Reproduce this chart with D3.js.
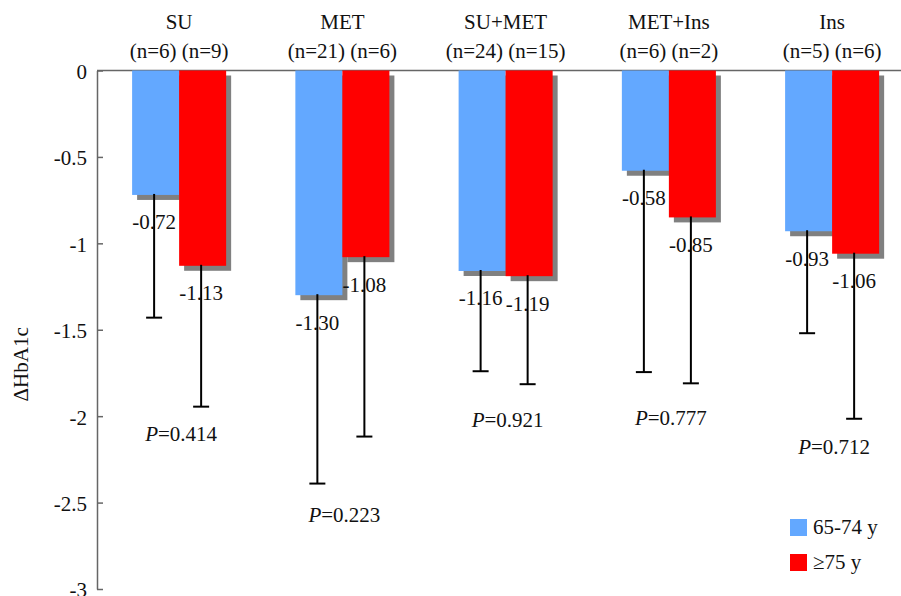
<!DOCTYPE html>
<html>
<head>
<meta charset="utf-8">
<script src="https://cdn.jsdelivr.net/npm/d3@7"></script>
<style>
  html, body { margin: 0; padding: 0; background: #fff; }
  svg { display: block; }
  svg text { font-family: "Liberation Serif", "Times New Roman", serif !important; }
</style>
</head>
<body>
<svg id="chart" width="901" height="596"></svg>
<script>
// ---- data ----
const categories = ["SU", "MET", "SU+MET", "MET+Ins", "Ins"];
const seriesNames = ["65-74 y", "\u226575 y"];
const nYoung = [6, 21, 24, 6, 5];
const nOld = [9, 6, 15, 2, 6];
const meanYoung = [-0.72, -1.30, -1.16, -0.58, -0.93];
const meanOld = [-1.13, -1.08, -1.19, -0.85, -1.06];
const lowYoung = [-1.43, -2.39, -1.74, -1.745, -1.52];
const lowOld = [-1.945, -2.118, -1.815, -1.81, -2.015];
const pValues = ["0.414", "0.223", "0.921", "0.777", "0.712"];
const pLabelPos = [-2.145, -2.61, -2.065, -2.052, -2.22];
const yTicks = [0, -0.5, -1, -1.5, -2, -2.5, -3];

const colors = ["#63A8FF", "#FF0000"];
const shadowColor = "#808080";
const fontSize = 21;

const svg = d3.select("#chart");

const y = d3.scaleLinear().domain([-3, 0]).range([589, 70.5]);
const x0 = d3.scaleBand().domain(categories).range([97.5, 913.75])
  .paddingInner(0.424).paddingOuter(0.212);
const x1 = d3.scaleBand().domain([0, 1]).range([0, x0.bandwidth()]);

const rows = categories.map((c, i) => ({
  cat: c,
  bars: [
    { s: 0, v: meanYoung[i], low: lowYoung[i] },
    { s: 1, v: meanOld[i], low: lowOld[i] }
  ]
}));

// y axis
const yAxis = d3.axisLeft(y)
  .tickValues(yTicks)
  .tickSizeInner(-6)
  .tickSizeOuter(0)
  .tickPadding(10)
  .tickFormat(d => String(d));
const gy = svg.append("g").attr("transform", "translate(97,0)").call(yAxis);
gy.attr("font-family", null);
gy.select(".domain").attr("stroke", "#666").attr("stroke-width", 1.5);
gy.selectAll(".tick line").attr("stroke", "#666").attr("stroke-width", 1.5);
gy.selectAll(".tick text")
  .attr("font-size", fontSize)
  .attr("dy", "0.38em")
  .attr("fill", "#111");

// zero line
svg.append("line")
  .attr("x1", 97).attr("x2", 901)
  .attr("y1", y(0)).attr("y2", y(0))
  .attr("stroke", "#666").attr("stroke-width", 1.5);

// y axis title
svg.append("text")
  .attr("transform", `translate(28,${(y(-1.5) + y(-1.9)) / 2}) rotate(-90)`)
  .attr("text-anchor", "middle")
  .attr("font-size", fontSize)
  .attr("fill", "#111")
  .text("\u0394HbA1c");

const groups = svg.selectAll("g.grp").data(rows).join("g")
  .attr("class", "grp")
  .attr("transform", d => `translate(${x0(d.cat)},0)`);

// shadows
groups.selectAll("rect.shadow").data(d => d.bars).join("rect")
  .attr("class", "shadow")
  .attr("x", d => x1(d.s) + 5)
  .attr("y", y(0) + 5)
  .attr("width", x1.bandwidth())
  .attr("height", d => y(d.v) - y(0))
  .attr("fill", shadowColor);

// bars
groups.selectAll("rect.bar").data(d => d.bars).join("rect")
  .attr("class", "bar")
  .attr("x", d => x1(d.s))
  .attr("y", y(0))
  .attr("width", x1.bandwidth())
  .attr("height", d => y(d.v) - y(0))
  .attr("fill", d => colors[d.s]);

const wx = d => x1(d.s) + x1.bandwidth() / 2 - 1.5;

// value labels
groups.selectAll("text.val").data(d => d.bars).join("text")
  .attr("class", "val")
  .attr("x", wx)
  .attr("y", d => y(d.v) + 34.5)
  .attr("text-anchor", "middle")
  .attr("font-size", fontSize)
  .attr("fill", "#111")
  .text(d => d.v.toFixed(2));

// error whiskers
groups.selectAll("line.whisker").data(d => d.bars).join("line")
  .attr("class", "whisker")
  .attr("x1", wx).attr("x2", wx)
  .attr("y1", d => y(d.v) - 1)
  .attr("y2", d => y(d.low))
  .attr("stroke", "#000").attr("stroke-width", 2);
groups.selectAll("line.cap").data(d => d.bars).join("line")
  .attr("class", "cap")
  .attr("x1", d => wx(d) - 8).attr("x2", d => wx(d) + 8)
  .attr("y1", d => y(d.low)).attr("y2", d => y(d.low))
  .attr("stroke", "#000").attr("stroke-width", 2);

// category labels
groups.append("text")
  .attr("x", x0.bandwidth() / 2)
  .attr("y", 29)
  .attr("text-anchor", "middle")
  .attr("font-size", fontSize)
  .attr("fill", "#111")
  .text(d => d.cat);
groups.append("text")
  .attr("x", x0.bandwidth() / 2)
  .attr("y", 58)
  .attr("text-anchor", "middle")
  .attr("font-size", fontSize)
  .attr("fill", "#111")
  .text((d, i) => `(n=${nYoung[i]}) (n=${nOld[i]})`);

// P labels
const pt = groups.append("text")
  .attr("x", x0.bandwidth() / 2 + 2)
  .attr("y", (d, i) => y(pLabelPos[i]))
  .attr("text-anchor", "middle")
  .attr("font-size", fontSize)
  .attr("fill", "#111");
pt.append("tspan").attr("font-style", "italic").text("P");
pt.append("tspan").text((d, i) => "=" + pValues[i]);

// legend
const legend = svg.append("g").attr("transform", "translate(790,519)");
seriesNames.forEach((name, i) => {
  const g = legend.append("g").attr("transform", `translate(0,${i * 35})`);
  g.append("rect").attr("width", 17).attr("height", 17).attr("fill", colors[i]);
  g.append("text").attr("x", 23).attr("y", 15)
    .attr("font-size", fontSize).attr("fill", "#111").text(name);
});
</script>
</body>
</html>
